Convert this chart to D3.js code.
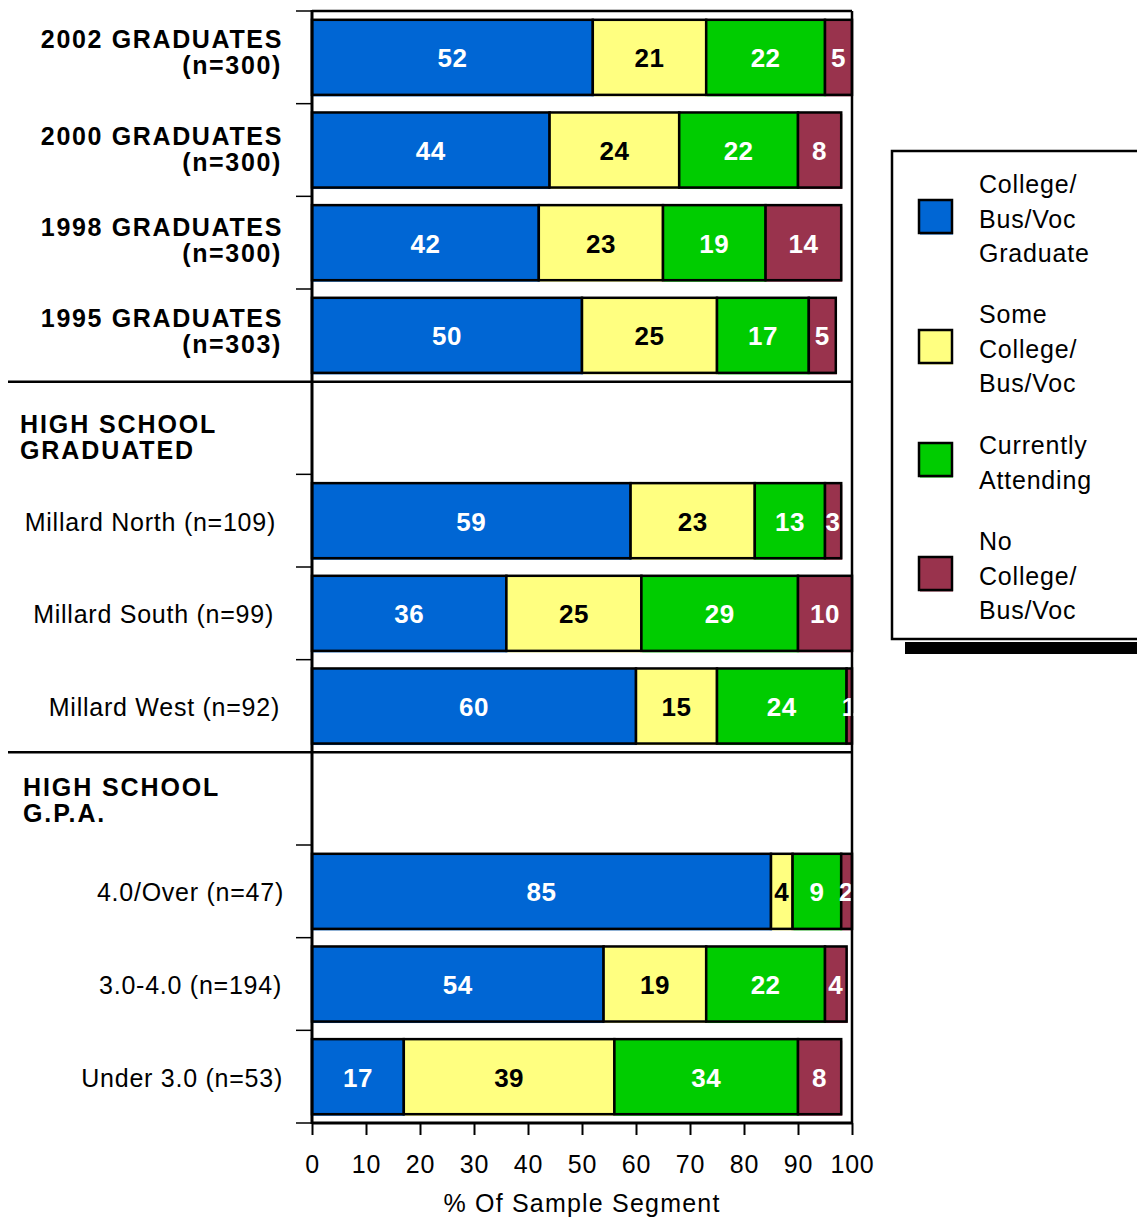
<!DOCTYPE html>
<html>
<head>
<meta charset="utf-8">
<script src="https://cdn.jsdelivr.net/npm/d3@7"></script>
<style>
  html, body { margin: 0; padding: 0; background: #fff; }
  svg { display: block; font-family: "Liberation Sans", Arial, sans-serif; }
</style>
</head>
<body>
<svg id="chart" width="1137" height="1218"></svg>
<script>
// ---------- DATA ----------
const rowIds = ["y2002","y2000","y1998","y1995","hdrGrad","north","south","west","hdrGpa","gpa4","gpa3","gpaUnder"];
const rowLine1 = ["2002 GRADUATES","2000 GRADUATES","1998 GRADUATES","1995 GRADUATES","HIGH SCHOOL","Millard North (n=109)","Millard South (n=99)","Millard West (n=92)","HIGH SCHOOL","4.0/Over (n=47)","3.0-4.0 (n=194)","Under 3.0 (n=53)"];
const rowLine2 = ["(n=300)","(n=300)","(n=300)","(n=303)","GRADUATED","","","","G.P.A.","","",""];
const rowKind  = ["group","group","group","group","header","item","item","item","header","item","item","item"];

const seriesNames = ["College/ Bus/Voc Graduate","Some College/ Bus/Voc","Currently Attending","No College/ Bus/Voc"];
const collegeGrad        = [52, 44, 42, 50, null, 59, 36, 60, null, 85, 54, 17];
const someCollege        = [21, 24, 23, 25, null, 23, 25, 15, null,  4, 19, 39];
const currentlyAttending = [22, 22, 19, 17, null, 13, 29, 24, null,  9, 22, 34];
const noCollege          = [ 5,  8, 14,  5, null,  3, 10,  1, null,  2,  4,  8];

const xTicks = [0,10,20,30,40,50,60,70,80,90,100];
const xTitle = "% Of Sample Segment";
const legendLines = [["College/","Bus/Voc","Graduate"],["Some","College/","Bus/Voc"],["Currently","Attending"],["No","College/","Bus/Voc"]];

// ---------- STYLE ----------
const colors = ["#0066D4","#FFFF80","#00CC00","#99334D"];
const textColors = ["#fff","#000","#fff","#fff"];
const pL = 312, pR = 852, pT = 11, pB = 1123;

const svg = d3.select("#chart");

const x = d3.scaleLinear().domain([0,100]).range([pL,pR]);
const y = d3.scaleBand().domain(rowIds).range([pT,pB]).paddingInner(0.19).paddingOuter(0.095);
const step = y.step();

const seriesArrays = [collegeGrad, someCollege, currentlyAttending, noCollege];
const rows = rowIds.map((id,i)=>({id, i, vals: seriesArrays.map(a=>a[i])}));

svg.append("defs").append("clipPath").attr("id","plotClip")
  .append("rect").attr("x",pL).attr("y",pT).attr("width",pR-pL+3).attr("height",pB-pT);

// bars
const barG = svg.append("g");
rows.filter(r=>r.vals[0]!==null).forEach(r=>{
  let cum = 0;
  r.vals.forEach((v,k)=>{
    const x0 = x(cum), x1 = x(cum+v);
    const yy = y(r.id), h = y.bandwidth();
    barG.append("rect").attr("x",x0+1).attr("y",yy+1.5).attr("width",x1-x0).attr("height",h)
      .attr("fill",colors[k]);
    barG.append("rect").attr("x",x0).attr("y",yy).attr("width",x1-x0).attr("height",h)
      .attr("fill",colors[k]).attr("stroke","#000").attr("stroke-width",2.5);
    cum += v;
  });
});

// value labels
const lblG = svg.append("g").attr("clip-path","url(#plotClip)");
rows.filter(r=>r.vals[0]!==null).forEach(r=>{
  let cum = 0;
  r.vals.forEach((v,k)=>{
    const cx = (x(cum)+x(cum+v))/2;
    lblG.append("text").attr("x",cx).attr("y",y(r.id)+y.bandwidth()/2+10)
      .attr("text-anchor","middle").attr("font-size",26).attr("font-weight","bold")
      .attr("letter-spacing",0.5)
      .attr("fill",textColors[k]).text(v);
    cum += v;
  });
});

// frame
const frame = svg.append("g").attr("stroke","#000");
frame.append("line").attr("x1",pL).attr("x2",pR).attr("y1",pT).attr("y2",pT).attr("stroke-width",2.5);
frame.append("line").attr("x1",pR).attr("x2",pR).attr("y1",pT).attr("y2",pB).attr("stroke-width",2.5);
frame.append("line").attr("x1",pL).attr("x2",pL).attr("y1",pT-1).attr("y2",pB+1).attr("stroke-width",3);

const sepIdx = [4,8];
d3.range(0,13).forEach(k=>{
  const yy = pT + k*step;
  if (sepIdx.includes(k)) {
    frame.append("line").attr("x1",8).attr("x2",pR).attr("y1",yy).attr("y2",yy).attr("stroke-width",2.5);
  } else {
    frame.append("line").attr("x1",296).attr("x2",pL).attr("y1",yy).attr("y2",yy).attr("stroke-width",1.5);
  }
});

// x axis
const xAxis = d3.axisBottom(x).tickValues(xTicks).tickSize(12).tickPadding(20).tickFormat(d3.format("d"));
const xg = svg.append("g").attr("transform",`translate(0,${pB})`).call(xAxis);
xg.select(".domain").attr("stroke","#000").attr("stroke-width",3).attr("d",`M${pL},0H${pR}`);
xg.selectAll(".tick line").attr("stroke","#000").attr("stroke-width",2);
xg.selectAll(".tick text").attr("font-size",25).attr("fill","#000").attr("letter-spacing",0.8)
  .attr("font-family","'Liberation Sans', Arial, sans-serif");
svg.append("text").attr("x",(pL+pR)/2).attr("y",1212).attr("text-anchor","middle")
  .attr("font-size",25).attr("letter-spacing",1.2).attr("fill","#000").text(xTitle);

// row labels
const labG = svg.append("g").attr("fill","#000");
const headerPos = {4:{x:20,dy:5},8:{x:23,dy:-3}};
const groupDy = {0:1,1:5,2:3,3:2};
const itemRight = {5:276,6:274,7:280,9:284,10:282,11:283};
rows.forEach(r=>{
  const cy = y(r.id)+y.bandwidth()/2;
  const kind = rowKind[r.i];
  if (kind==="group") {
    const gy = cy + groupDy[r.i];
    labG.append("text").attr("x",283).attr("y",gy-10).attr("text-anchor","end")
      .attr("font-size",25).attr("font-weight","bold").attr("letter-spacing",1.65).text(rowLine1[r.i]);
    labG.append("text").attr("x",282).attr("y",gy+16).attr("text-anchor","end")
      .attr("font-size",25).attr("font-weight","bold").attr("letter-spacing",1.65).text(rowLine2[r.i]);
  } else if (kind==="header") {
    const hp = headerPos[r.i];
    labG.append("text").attr("x",hp.x).attr("y",cy+hp.dy).attr("font-size",25)
      .attr("font-weight","bold").attr("letter-spacing",1.9).text(rowLine1[r.i]);
    labG.append("text").attr("x",hp.x).attr("y",cy+hp.dy+26).attr("font-size",25)
      .attr("font-weight","bold").attr("letter-spacing",1.9).text(rowLine2[r.i]);
  } else {
    labG.append("text").attr("x",itemRight[r.i]).attr("y",cy+10).attr("text-anchor","end")
      .attr("font-size",25).attr("letter-spacing",0.75).text(rowLine1[r.i]);
  }
});

// legend
const lg = svg.append("g");
lg.append("rect").attr("x",905).attr("y",642).attr("width",240).attr("height",12).attr("fill","#000");
lg.append("rect").attr("x",892).attr("y",151).attr("width",260).attr("height",488)
  .attr("fill","#fff").attr("stroke","#000").attr("stroke-width",2.5);
const swatchY = [200,330,443,557];
const textY0 = [193,323,454,550];
seriesNames.forEach((name,k)=>{
  lg.append("rect").attr("x",920).attr("y",swatchY[k]+1.5).attr("width",33).attr("height",33).attr("fill",colors[k]);
  lg.append("rect").attr("x",919).attr("y",swatchY[k]).attr("width",33).attr("height",33)
    .attr("fill",colors[k]).attr("stroke","#000").attr("stroke-width",2.5);
  legendLines[k].forEach((ln,j)=>{
    lg.append("text").attr("x",979).attr("y",textY0[k]+j*34.5).attr("font-size",25)
      .attr("letter-spacing",0.8).attr("fill","#000").text(ln);
  });
});
</script>
</body>
</html>
